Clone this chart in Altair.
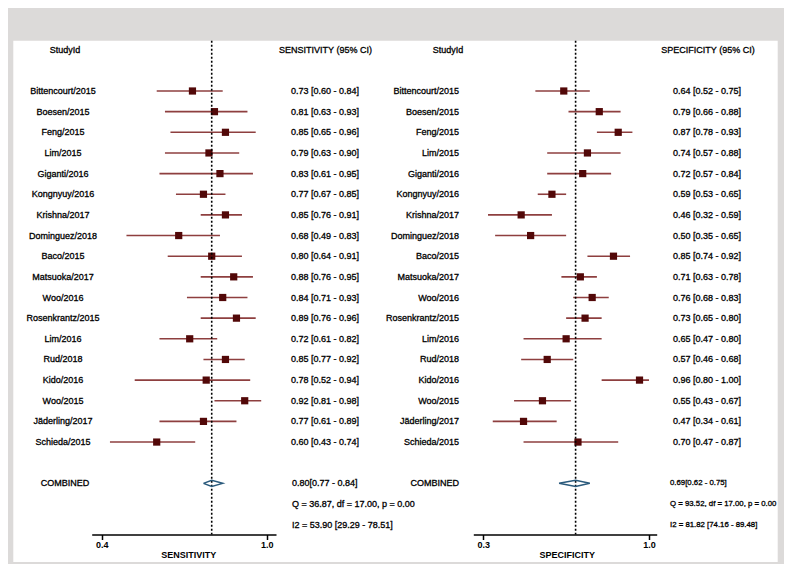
import altair as alt
import pandas as pd

# ---------------- data ----------------
studies = ["Bittencourt/2015", "Boesen/2015", "Feng/2015", "Lim/2015", "Giganti/2016",
           "Kongnyuy/2016", "Krishna/2017", "Dominguez/2018", "Baco/2015", "Matsuoka/2017",
           "Woo/2016", "Rosenkrantz/2015", "Lim/2016", "Rud/2018", "Kido/2016", "Woo/2015",
           "Jäderling/2017", "Schieda/2015"]

sens_est = [0.73, 0.81, 0.85, 0.79, 0.83, 0.77, 0.85, 0.68, 0.80, 0.88, 0.84, 0.89, 0.72, 0.85, 0.78, 0.92, 0.77, 0.60]
sens_lo = [0.60, 0.63, 0.65, 0.63, 0.61, 0.67, 0.76, 0.49, 0.64, 0.76, 0.71, 0.76, 0.61, 0.77, 0.52, 0.81, 0.61, 0.43]
sens_hi = [0.84, 0.93, 0.96, 0.90, 0.95, 0.85, 0.91, 0.83, 0.91, 0.95, 0.93, 0.96, 0.82, 0.92, 0.94, 0.98, 0.89, 0.74]

spec_est = [0.64, 0.79, 0.87, 0.74, 0.72, 0.59, 0.46, 0.50, 0.85, 0.71, 0.76, 0.73, 0.65, 0.57, 0.96, 0.55, 0.47, 0.70]
spec_lo = [0.52, 0.66, 0.78, 0.57, 0.57, 0.53, 0.32, 0.35, 0.74, 0.63, 0.68, 0.65, 0.47, 0.46, 0.80, 0.43, 0.34, 0.47]
spec_hi = [0.75, 0.88, 0.93, 0.88, 0.84, 0.65, 0.59, 0.65, 0.92, 0.78, 0.83, 0.80, 0.80, 0.68, 1.00, 0.67, 0.61, 0.87]

sens_combined = [0.80, 0.77, 0.84]
spec_combined = [0.69, 0.62, 0.75]
sens_q = "Q = 36.87, df = 17.00, p = 0.00"
sens_i2 = "I2 = 53.90 [29.29 - 78.51]"
spec_q = "Q = 93.52, df = 17.00, p =  0.00"
spec_i2 = "I2 = 81.82 [74.16 - 89.48]"

# ---------------- layout constants ----------------
W, H = 776, 556
FONT = "Liberation Sans"
AXIS_Y = 526.5
TOP = 32.7
COMB_ROW = 19
Q_ROW = 20
I2_ROW = 21
HEAD_ROW = -2
SQUARE = "#520808"
CI = "#8e3f3f"
DIAMOND = "#2a5a7c"

yscale = alt.Scale(domain=[0, 21], range=[83, 83 + 21 * 20.65], nice=False, zero=False)
Y = alt.Y("row:Q", scale=yscale, axis=None)


def txt(df, x, align="center", size=9, field="t"):
    return alt.Chart(df).mark_text(align=align, baseline="middle", font=FONT, fontSize=size,
                                   color="black", stroke="black", strokeWidth=0.3).encode(
        x=alt.value(x), y=Y, text=f"{field}:N")


def panel(est, lo, hi, comb, q, i2, dom, rng, ticks, title, title_x,
          name_x, name_align, head_x, val_x, valhead, valhead_x, comb_x, comb_size,
          comb_label_x, comb_label_align, comb_label_size):
    xs = alt.Scale(domain=dom, range=rng, nice=False, zero=False)
    df = pd.DataFrame({"name": studies, "est": est, "lo": lo, "hi": hi,
                       "row": list(range(len(studies)))})
    df["t"] = [f"{e:.2f} [{l:.2f} - {h:.2f}]" for e, l, h in zip(est, lo, hi)]
    axis = alt.Axis(values=ticks, format=".1f", orient="bottom", offset=-(H - AXIS_Y),
                    zindex=2, grid=False, domainColor="black", domainWidth=1.5,
                    tickColor="black", tickWidth=1.5, tickSize=5, labelFontSize=9,
                    labelFont=FONT, labelColor="black", labelPadding=1, labelFlush=False,
                    labelFontWeight="bold",
                    title=title, titleFont=FONT, titleFontSize=9, titleFontWeight="bold",
                    titleColor="black", titleX=title_x, titleY=19.5, titleBaseline="middle")
    ci = alt.Chart(df).mark_rule(color=CI, strokeWidth=1.6).encode(
        x=alt.X("lo:Q", scale=xs, axis=axis), x2="hi:Q", y=Y)
    sq = alt.Chart(df).mark_point(shape="square", filled=True, size=52, opacity=1,
                                  color=SQUARE).encode(
        x=alt.X("est:Q", scale=xs, axis=None), y=Y)
    cdf = pd.DataFrame({"est": [comb[0]]})
    ref = alt.Chart(cdf).mark_rule(color="black", strokeWidth=1.6, strokeDash=[2, 2]).encode(
        x=alt.X("est:Q", scale=xs, axis=None), y=alt.value(TOP), y2=alt.value(AXIS_Y))
    ddf = pd.DataFrame({"x": [comb[1], comb[0], comb[2], comb[0], comb[1]],
                        "row": [COMB_ROW, COMB_ROW - 0.15, COMB_ROW, COMB_ROW + 0.15, COMB_ROW],
                        "o": [0, 1, 2, 3, 4]})
    dia = alt.Chart(ddf).mark_line(color=DIAMOND, strokeWidth=1.5).encode(
        x=alt.X("x:Q", scale=xs, axis=None), y=Y, order="o:Q")
    names = txt(df, name_x, align=name_align, field="name")
    vals = txt(df, val_x, align="left")
    head = txt(pd.DataFrame({"t": ["StudyId"], "row": [HEAD_ROW]}), head_x)
    vhead = txt(pd.DataFrame({"t": [valhead], "row": [HEAD_ROW]}), valhead_x)
    clabel = txt(pd.DataFrame({"t": ["COMBINED"], "row": [COMB_ROW]}), comb_label_x,
                 align=comb_label_align, size=comb_label_size)
    ctext = txt(pd.DataFrame({"t": [f"{comb[0]:.2f}[{comb[1]:.2f} - {comb[2]:.2f}]", q, i2],
                              "row": [COMB_ROW, Q_ROW, I2_ROW]}), comb_x, align="left",
                size=comb_size)
    return [ci, sq, ref, dia, names, vals, head, vhead, clabel, ctext]


bg = alt.Chart(pd.DataFrame({"a": [0]})).mark_rect(color="white").encode(
    x=alt.value(5.3), x2=alt.value(769.7), y=alt.value(TOP), y2=alt.value(554))

left = panel(sens_est, sens_lo, sens_hi, sens_combined, sens_q, sens_i2,
             dom=[0.3636, 1.0338], rng=[83.7, 268.0], ticks=[0.4, 1.0],
             title="SENSITIVITY", title_x=180.3,
             name_x=55, name_align="center", head_x=57, val_x=283,
             valhead="SENSITIVITY (95% CI)", valhead_x=317.5, comb_x=284, comb_size=9,
             comb_label_x=57, comb_label_align="center", comb_label_size=9)
right = panel(spec_est, spec_lo, spec_hi, spec_combined, spec_q, spec_i2,
              dom=[0.2578, 1.0326], rng=[465.3, 648.7], ticks=[0.3, 1.0],
              title="SPECIFICITY", title_x=558.7,
              name_x=451, name_align="right", head_x=440, val_x=665,
              valhead="SPECIFICITY (95% CI)", valhead_x=700, comb_x=662, comb_size=7.8,
              comb_label_x=451, comb_label_align="right", comb_label_size=9)

chart = alt.layer(bg, *left, *right).resolve_scale(x="independent").properties(
    width=W, height=H, padding=0, autosize=alt.AutoSizeParams(type="none"),
    background="#dcdad9"
).configure_view(stroke=None)

chart.save("out.html", embed_options={"renderer": "svg", "actions": False})
